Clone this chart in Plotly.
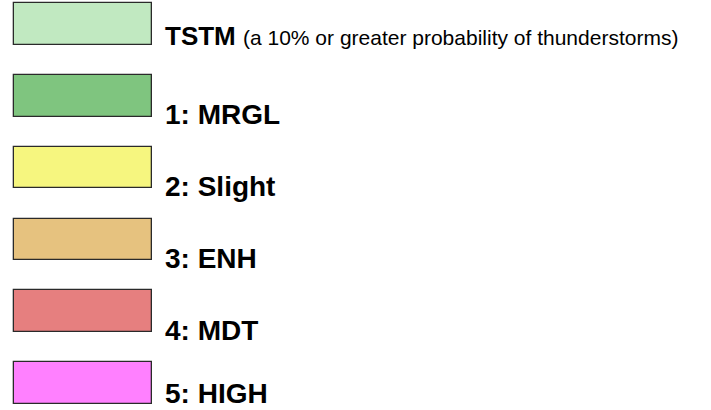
import plotly.graph_objects as go

categories = ["TSTM", "1: MRGL", "2: Slight", "3: ENH", "4: MDT", "5: HIGH"]
notes = ["(a 10% or greater probability of thunderstorms)", "", "", "", "", ""]
colors = ["#C1E9C1", "#7FC57F", "#F6F67F", "#E6C27F", "#E67F7F", "#FF80FF"]
box_length = [138] * 6
box_start = [14] * 6

# label vertical offsets (pixels) relative to each box centre
label_shift = [-12, -19, -19, -19, -19, -10]

fig = go.Figure()
fig.add_trace(go.Bar(
    y=list(range(len(categories))),
    x=box_length,
    base=box_start,
    orientation="h",
    width=0.58,
    marker=dict(color=colors, line=dict(color="#2a2a2a", width=1.3)),
    hoverinfo="skip",
    showlegend=False,
))

FONT = "Liberation Sans, Arial, sans-serif"
for i, (cat, note) in enumerate(zip(categories, notes)):
    if note:
        txt = f"<b>{cat}</b> <span style='font-size:21px;font-weight:normal'>{note}</span>"
        size = 26
    else:
        txt = f"<b>{cat}</b>"
        size = 28
    fig.add_annotation(
        x=164, y=i, xref="x", yref="y", text=txt, showarrow=False,
        xanchor="left", yanchor="middle", yshift=label_shift[i], xshift=-1,
        font=dict(family=FONT, size=size, color="#000"),
    )

fig.update_layout(
    width=711, height=410,
    margin=dict(l=0, r=0, t=0, b=0),
    paper_bgcolor="white", plot_bgcolor="white",
    xaxis=dict(range=[0, 711], visible=False, fixedrange=True),
    yaxis=dict(range=[5.376, -0.334], visible=False, fixedrange=True),
    bargap=0,
)
fig.write_html("out.html", post_script="document.body.style.margin='0';",
               config={"displayModeBar": False})
